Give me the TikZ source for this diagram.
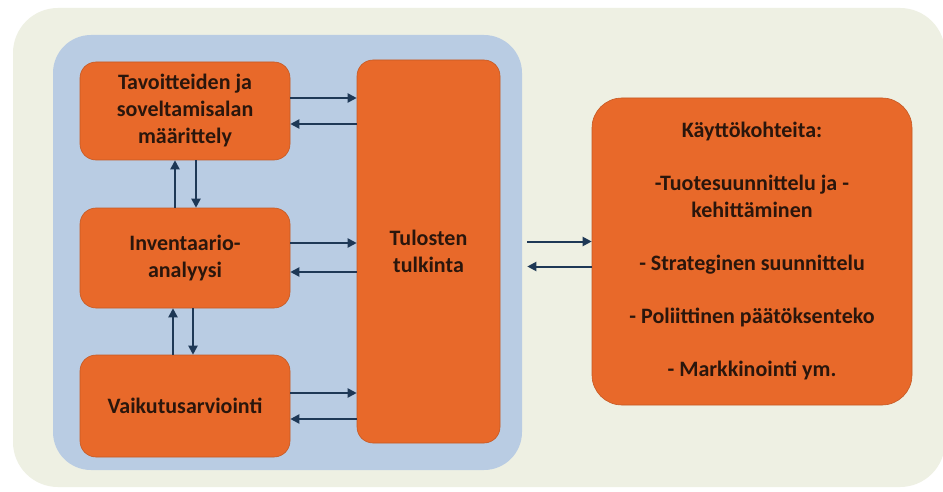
\documentclass[tikz,border=0pt]{standalone}
\usepackage{fontspec}
\setmainfont{Carlito}
\usetikzlibrary{arrows.meta}
\definecolor{cream}{HTML}{EEF0E3}
\definecolor{bluebg}{HTML}{B9CCE3}
\definecolor{orng}{HTML}{E8692A}
\definecolor{navy}{HTML}{1E3856}
\definecolor{txt}{HTML}{2A160C}
\tikzset{
  box/.style={draw=orng!85!black, line width=0.6pt, fill=orng, rounded corners=16pt, align=center,
    font=\fontsize{22}{27}\selectfont\bfseries, text=txt, inner sep=0pt},
  arr/.style={draw=navy, line width=2pt, -{Triangle[length=9pt,width=9pt]}}
}
\begin{document}
\begin{tikzpicture}[x=1pt,y=-1pt]
\useasboundingbox (0,0) rectangle (943,492);
\fill[white] (0,0) rectangle (943,492);
\fill[cream, rounded corners=45pt] (13,8) rectangle (945,487);
\fill[bluebg, rounded corners=38pt] (53,35) rectangle (522,470);
\node[box, minimum width=210pt, minimum height=98pt] (b1) at (185,111) {Tavoitteiden ja\\soveltamisalan\\määrittely};
\node[box, minimum width=210pt, minimum height=100pt] (b2) at (185,258) {Inventaario-\\analyysi};
\node[box, minimum width=210pt, minimum height=102pt] (b3) at (185,406) {Vaikutusarviointi};
\node[box, minimum width=143pt, minimum height=383pt] (tul) at (428.5,251.5) {Tulosten\\tulkinta};
\node[box, rounded corners=30pt, minimum width=320pt, minimum height=307pt] (use) at (752,251.5)
  {Käyttökohteita:\\[26pt]-Tuotesuunnittelu ja -\\kehittäminen\\[26pt]- Strateginen suunnittelu\\[26pt]- Poliittinen päätöksenteko\\[26pt]- Markkinointi ym.};
% horizontal arrows
\draw[arr] ([yshift=13pt]b1.east) -- ([yshift=13pt]b1.east -| tul.west);
\draw[arr] ([yshift=-13pt]b1.east -| tul.west) -- ([yshift=-13pt]b1.east);
\draw[arr] ([yshift=15pt]b2.east) -- ([yshift=15pt]b2.east -| tul.west);
\draw[arr] ([yshift=-14pt]b2.east -| tul.west) -- ([yshift=-14pt]b2.east);
\draw[arr] ([yshift=13pt]b3.east) -- ([yshift=13pt]b3.east -| tul.west);
\draw[arr] ([yshift=-13pt]b3.east -| tul.west) -- ([yshift=-13pt]b3.east);
% vertical arrows
\draw[arr] ([xshift=-10pt]b2.north) -- ([xshift=-10pt]b1.south);
\draw[arr] ([xshift=11pt]b1.south) -- ([xshift=11pt]b2.north);
\draw[arr] ([xshift=-12pt]b3.north) -- ([xshift=-12pt]b2.south);
\draw[arr] ([xshift=8pt]b2.south) -- ([xshift=8pt]b3.north);
% outer arrows
\coordinate (o1) at ([xshift=27pt,yshift=10pt]tul.east);
\coordinate (o2) at ([xshift=27pt,yshift=-15pt]tul.east);
\draw[arr] (o1) -- (o1 -| use.west);
\draw[arr] (o2 -| use.west) -- (o2);
\end{tikzpicture}
\end{document}
